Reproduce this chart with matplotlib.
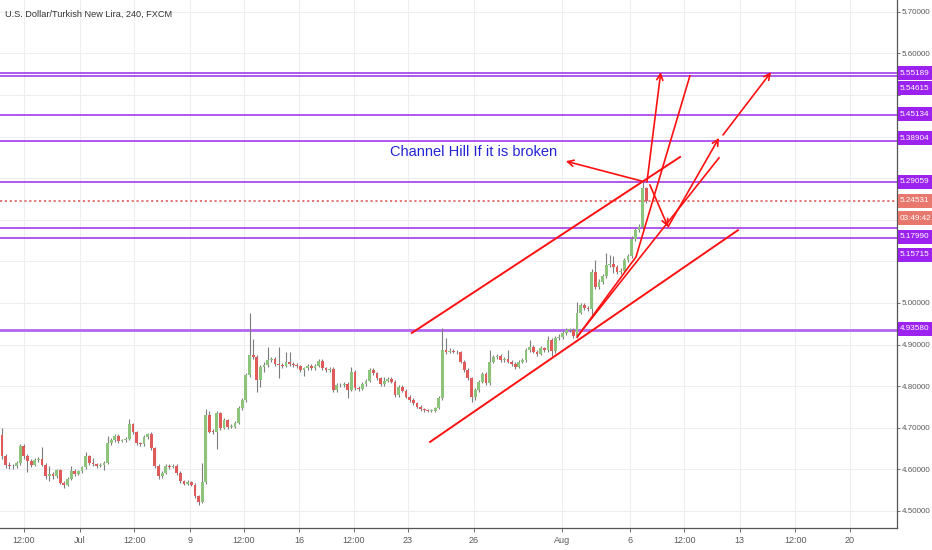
import matplotlib
matplotlib.use('Agg')
import matplotlib.pyplot as plt
from matplotlib.patches import Rectangle
from matplotlib.transforms import blended_transform_factory

plt.rcParams['font.family'] = ['Liberation Sans', 'DejaVu Sans']

# USD/TRY 4h candles, opens follow the previous close
first_open = 4.683
closes = [4.631, 4.611, 4.609, 4.607, 4.615, 4.656, 4.631, 4.619, 4.611, 4.623,
          4.625, 4.611, 4.583, 4.590, 4.583, 4.598, 4.568, 4.563, 4.578, 4.597,
          4.589, 4.595, 4.605, 4.631, 4.615, 4.612, 4.608, 4.611, 4.616, 4.663,
          4.671, 4.680, 4.668, 4.670, 4.674, 4.709, 4.689, 4.663, 4.660, 4.678,
          4.684, 4.651, 4.609, 4.583, 4.592, 4.607, 4.606, 4.609, 4.591, 4.571,
          4.566, 4.569, 4.563, 4.535, 4.521, 4.569, 4.731, 4.691, 4.690, 4.735,
          4.700, 4.719, 4.703, 4.703, 4.711, 4.747, 4.767, 4.827, 4.875, 4.871,
          4.815, 4.847, 4.851, 4.863, 4.865, 4.853, 4.851, 4.849, 4.857, 4.853,
          4.851, 4.848, 4.839, 4.843, 4.849, 4.843, 4.849, 4.861, 4.843, 4.839,
          4.841, 4.791, 4.803, 4.802, 4.805, 4.791, 4.835, 4.795, 4.794, 4.805,
          4.813, 4.839, 4.831, 4.819, 4.805, 4.813, 4.817, 4.811, 4.779, 4.799,
          4.789, 4.775, 4.767, 4.759, 4.751, 4.745, 4.743, 4.741, 4.741, 4.747,
          4.771, 4.887, 4.883, 4.885, 4.883, 4.881, 4.859, 4.839, 4.819, 4.773,
          4.791, 4.811, 4.829, 4.807, 4.859, 4.869, 4.873, 4.863, 4.866, 4.859,
          4.853, 4.847, 4.859, 4.863, 4.887, 4.895, 4.883, 4.878, 4.891, 4.886,
          4.911, 4.884, 4.915, 4.919, 4.927, 4.935, 4.935, 4.921, 4.977, 4.995,
          4.987, 4.985, 5.075, 5.039, 5.051, 5.065, 5.091, 5.094, 5.087, 5.075,
          5.078, 5.103, 5.113, 5.155, 5.175, 5.183, 5.276, 5.245]
highs = [4.699, 4.636, 4.617, 4.614, 4.620, 4.660, 4.660, 4.637, 4.624, 4.627,
         4.629, 4.653, 4.615, 4.609, 4.594, 4.602, 4.601, 4.572, 4.582, 4.608,
         4.600, 4.599, 4.609, 4.642, 4.634, 4.628, 4.616, 4.615, 4.620, 4.680,
         4.676, 4.686, 4.684, 4.674, 4.678, 4.722, 4.712, 4.692, 4.667, 4.683,
         4.688, 4.690, 4.655, 4.613, 4.597, 4.612, 4.613, 4.614, 4.613, 4.595,
         4.575, 4.574, 4.573, 4.567, 4.539, 4.615, 4.745, 4.741, 4.696, 4.740,
         4.738, 4.724, 4.722, 4.708, 4.716, 4.752, 4.772, 4.832, 4.975, 4.913,
         4.876, 4.851, 4.857, 4.895, 4.870, 4.869, 4.895, 4.856, 4.883, 4.883,
         4.858, 4.855, 4.852, 4.847, 4.853, 4.853, 4.854, 4.866, 4.865, 4.847,
         4.846, 4.845, 4.808, 4.808, 4.810, 4.809, 4.847, 4.839, 4.800, 4.810,
         4.818, 4.844, 4.843, 4.835, 4.823, 4.823, 4.822, 4.821, 4.815, 4.804,
         4.803, 4.793, 4.779, 4.771, 4.763, 4.755, 4.748, 4.746, 4.745, 4.751,
         4.776, 4.939, 4.915, 4.893, 4.889, 4.886, 4.885, 4.863, 4.843, 4.823,
         4.796, 4.816, 4.834, 4.833, 4.887, 4.874, 4.878, 4.877, 4.871, 4.887,
         4.863, 4.857, 4.864, 4.868, 4.892, 4.911, 4.899, 4.888, 4.896, 4.895,
         4.921, 4.915, 4.920, 4.925, 4.932, 4.941, 4.940, 4.939, 5.003, 5.001,
         5.000, 4.992, 5.082, 5.103, 5.057, 5.070, 5.119, 5.115, 5.113, 5.091,
         5.085, 5.108, 5.118, 5.160, 5.181, 5.190, 5.296, 5.280]
lows = [4.626, 4.604, 4.601, 4.600, 4.603, 4.611, 4.626, 4.594, 4.606, 4.608,
        4.618, 4.607, 4.577, 4.572, 4.578, 4.579, 4.564, 4.556, 4.560, 4.574,
        4.585, 4.586, 4.592, 4.602, 4.611, 4.608, 4.604, 4.605, 4.599, 4.612,
        4.659, 4.667, 4.664, 4.665, 4.667, 4.671, 4.685, 4.659, 4.656, 4.657,
        4.674, 4.647, 4.604, 4.578, 4.579, 4.589, 4.602, 4.603, 4.587, 4.567,
        4.562, 4.562, 4.559, 4.531, 4.515, 4.518, 4.565, 4.687, 4.684, 4.650,
        4.694, 4.696, 4.698, 4.699, 4.700, 4.708, 4.743, 4.763, 4.823, 4.866,
        4.787, 4.799, 4.833, 4.847, 4.858, 4.849, 4.819, 4.843, 4.845, 4.848,
        4.846, 4.843, 4.835, 4.825, 4.839, 4.839, 4.839, 4.845, 4.838, 4.834,
        4.835, 4.786, 4.787, 4.797, 4.798, 4.771, 4.788, 4.790, 4.789, 4.790,
        4.801, 4.809, 4.827, 4.815, 4.800, 4.801, 4.809, 4.807, 4.774, 4.775,
        4.785, 4.771, 4.763, 4.755, 4.747, 4.741, 4.739, 4.738, 4.738, 4.738,
        4.744, 4.767, 4.878, 4.879, 4.879, 4.877, 4.855, 4.834, 4.814, 4.762,
        4.768, 4.787, 4.807, 4.803, 4.803, 4.855, 4.865, 4.859, 4.858, 4.855,
        4.848, 4.842, 4.843, 4.855, 4.859, 4.883, 4.879, 4.873, 4.874, 4.881,
        4.882, 4.872, 4.880, 4.911, 4.914, 4.922, 4.930, 4.915, 4.917, 4.973,
        4.982, 4.980, 4.963, 5.034, 5.034, 5.046, 5.061, 5.086, 5.071, 5.070,
        5.069, 5.074, 5.098, 5.108, 5.150, 5.170, 5.178, 5.240]

# horizontal levels drawn on the chart and their price-scale badges
levels = [5.55189, 5.54615, 5.45134, 5.38904, 5.29059, 5.17990, 5.15715, 4.93580]
badge_prices = [5.5529, 5.5168, 5.4543, 5.3966, 5.2909, 5.1587, 5.1154, 4.9375]
last_price = 5.24531
countdown = '03:49:42'
countdown_pos = 5.2043

price_ticks = [4.5, 4.6, 4.7, 4.8, 4.9, 5.0, 5.1, 5.2, 5.3, 5.4, 5.5, 5.6, 5.7]
price_tick_labels = ['4.50000', '4.60000', '4.70000', '4.80000', '4.90000', '5.00000',
                     '', '', '', '', '', '5.60000', '5.70000']
time_ticks = [6.0, 21.4, 36.3, 51.6, 66.5, 81.6, 96.7, 111.5, 129.7, 153.8,
              172.5, 187.4, 202.7, 217.9, 233.0]
time_labels = ['12:00', 'Jul', '12:00', '9', '12:00', '16', '12:00', '23', '26',
               'Aug', '6', '12:00', '13', '12:00', '20']

up_col = '#8cc47c'
dn_col = '#e05a5a'
lvl_col = '#9a2be8'
red = '#ff1010'

fig = plt.figure(figsize=(9.32, 5.5), dpi=100)
fig.patch.set_facecolor('white')
ax = fig.add_axes([0, 22 / 550, 897 / 932, 528 / 550])

opens = [first_open] + closes[:-1]
n = len(closes)
idx = list(range(n))
ax.vlines(idx, lows, highs, color='#7d7d80', lw=0.8, zorder=3)
bottoms = [min(o, c) for o, c in zip(opens, closes)]
heights = [max(abs(c - o), 0.0015) for o, c in zip(opens, closes)]
cols = [up_col if c >= o else dn_col for o, c in zip(opens, closes)]
ax.bar(idx, heights, bottom=bottoms, width=0.76, color=cols, linewidth=0, zorder=4)

# levels
for lv in levels:
    lw = 2.0 if lv == 4.93580 else 1.1
    c = '#b266ee' if lv == 4.93580 else lvl_col
    ax.axhline(lv, color=c, lw=lw, zorder=2)
ax.axhline(last_price, color='#e36b6b', lw=1.3, ls=(0, (1.2, 1.5)), zorder=2)

# drawings
ax.plot([112.6, 186.3], [4.928, 5.351], color=red, lw=1.4, zorder=5)
ax.plot([117.6, 202.2], [4.666, 5.175], color=red, lw=1.4, zorder=5)
ax.plot([158.0, 174.2, 189.0], [4.918, 5.111, 5.546], color=red, lw=1.2, zorder=5)
ax.plot([158.2, 197.0], [4.921, 5.349], color=red, lw=1.2, zorder=5)
arrows = [((175.8, 5.293), (154.9, 5.341)),
          ((177.2, 5.291), (181.0, 5.555)),
          ((178.0, 5.284), (183.0, 5.183)),
          ((183.0, 5.183), (197.0, 5.397)),
          ((198.1, 5.404), (211.3, 5.555))]
for a, b in arrows:
    ax.annotate('', xy=b, xytext=a,
                arrowprops=dict(arrowstyle='->', color=red, lw=1.2,
                                mutation_scale=11, shrinkA=0, shrinkB=0),
                zorder=5)
ax.text(106.6, 5.363, 'Channel Hill If it is broken', color='#2323d6',
        fontsize=10.5, va='center', ha='left', zorder=6)

ax.set_xlim(-0.55, 245.9)
ax.set_ylim(4.4591, 5.7284)
ax.set_facecolor('white')

ax.yaxis.tick_right()
ax.set_yticks(price_ticks)
ax.set_yticklabels(price_tick_labels)
ax.set_xticks(time_ticks)
ax.set_xticklabels(time_labels)
ax.tick_params(axis='y', colors='#5a5a5a', labelsize=5.8, length=2.5, pad=1, width=0.6)
ax.tick_params(axis='x', colors='#5a5a5a', labelsize=6.5, length=3, pad=3, width=0.6)
ax.grid(True, color='#eeeef2', lw=0.8, zorder=0)
ax.set_axisbelow(True)
for s in ['left', 'top']:
    ax.spines[s].set_visible(False)
for s in ['right', 'bottom']:
    ax.spines[s].set_color('#555555')
    ax.spines[s].set_linewidth(0.9)

ax.text(0.006, 0.972, 'U.S. Dollar/Turkish New Lira, 240, FXCM', transform=ax.transAxes,
        fontsize=6.6, color='#333333', va='center', ha='left')

# price-scale badges
tr = blended_transform_factory(fig.transFigure, ax.transData)
box_h = 13.5 / 416
x0 = 898 / 932
for p, lv in zip(badge_prices, levels):
    fig.add_artist(Rectangle((x0, p - box_h / 2), 1 - x0, box_h, transform=tr,
                             facecolor='#9c22f0', edgecolor='none', zorder=10))
    fig.text(x0 + 0.002, p, f'{lv:.5f}', transform=tr, color='white', fontsize=5.9,
             va='center', ha='left', zorder=11)
for p, label in [(last_price, f'{last_price:.5f}'), (countdown_pos, countdown)]:
    fig.add_artist(Rectangle((x0, p - box_h / 2), 1 - x0, box_h, transform=tr,
                             facecolor='#e8786e', edgecolor='none', zorder=10))
    fig.text(x0 + 0.002, p, label, transform=tr, color='white', fontsize=5.9,
             va='center', ha='left', zorder=11)

plt.savefig('out.png', dpi=100)
plt.close()
